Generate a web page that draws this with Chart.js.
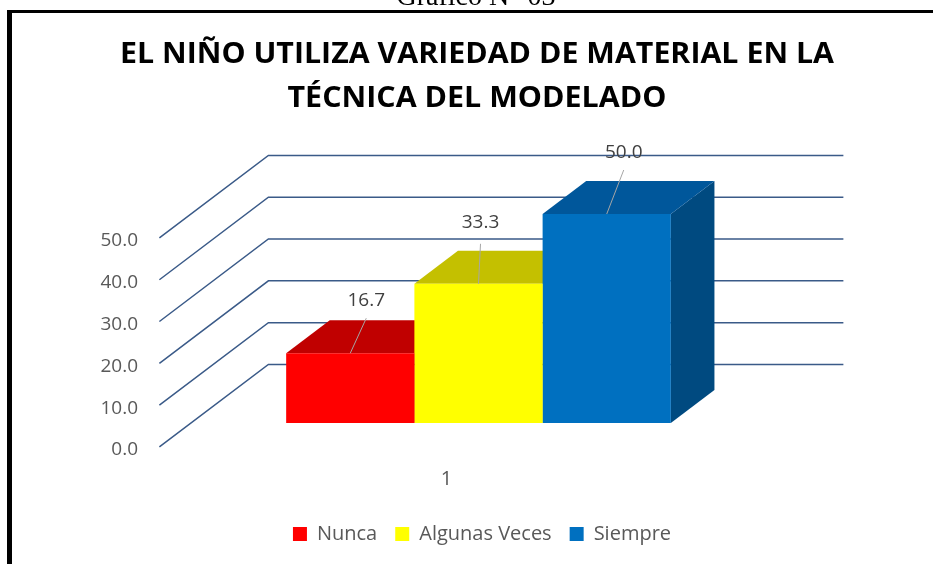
<!DOCTYPE html>
<html lang="es">
<head>
<meta charset="utf-8">
<title>Gráfico N° 03</title>
<script src="https://cdn.jsdelivr.net/npm/chart.js@4.4.1/dist/chart.umd.min.js"></script>
<style>
  html, body { margin: 0; padding: 0; background: #fff; }
  #caja { position: relative; width: 933px; height: 564px; }
</style>
</head>
<body>
<div id="caja"><canvas id="grafico"></canvas></div>
<script>
// datos del gráfico
const categorias = ['1'];
const series = ['Nunca', 'Algunas Veces', 'Siempre'];
const valores = [16.7, 33.3, 50.0];
const marcasY = [0, 10, 20, 30, 40, 50];
const titulo = ['EL NIÑO UTILIZA VARIEDAD DE MATERIAL EN LA', 'TÉCNICA DEL MODELADO'];
const rotulo = 'Gráfico N° 03';

// colores: frente / techo / lado de cada barra
const colorFrente = ['#FF0000', '#FFFF00', '#0070C0'];
const colorTecho = ['#C00000', '#C4C000', '#00579B'];
const colorLado = ['#A00000', '#A8A400', '#004A80'];

// perspectiva (vector de profundidad, fracciones del frente y fondo de las barras)
const PROF_X = 109, PROF_Y = -82.5;
const F_FRENTE = 0.29, F_FONDO = 0.69;

// desplazamiento de etiquetas: [dx, fin de guía dy, texto dy]
const guias = [[16, -35, -53], [2, -40, -61], [17, -44, -61]];

function poligono(ctx, color, pts) {
    ctx.fillStyle = color;
    ctx.beginPath();
    ctx.moveTo(pts[0][0], pts[0][1]);
    for (let k = 1; k < pts.length; k++) ctx.lineTo(pts[k][0], pts[k][1]);
    ctx.closePath();
    ctx.fill();
}

//S perspectiva: rejilla y caras de las barras
const perspectiva = {
    id: 'perspectiva',
    beforeDatasetsDraw(chart) {
        const ctx = chart.ctx, a = chart.chartArea, y = chart.scales.y;
        const muroX = PROF_X * (1 - F_FRENTE), muroY = PROF_Y * (1 - F_FRENTE);
        const fx = -PROF_X * F_FRENTE, fy = -PROF_Y * F_FRENTE;
        ctx.save();
        ctx.strokeStyle = '#3A5A88';
        ctx.lineWidth = 1.5;
        marcasY.forEach(v => {
            const py = y.getPixelForValue(v);
            ctx.beginPath();
            ctx.moveTo(a.left + fx, py + fy);
            ctx.lineTo(a.left + muroX, py + muroY);
            ctx.lineTo(a.right + muroX, py + muroY);
            ctx.stroke();
        });
        const dx = PROF_X * (F_FONDO - F_FRENTE), dy = PROF_Y * (F_FONDO - F_FRENTE);
        chart.data.datasets.forEach((ds, i) => {
            chart.getDatasetMeta(i).data.forEach(b => {
                const l = b.x - b.width / 2, r = b.x + b.width / 2;
                poligono(ctx, colorLado[i], [[r, b.y], [r + dx, b.y + dy], [r + dx, b.base + dy], [r, b.base]]);
                poligono(ctx, colorTecho[i], [[l, b.y], [r, b.y], [r + dx, b.y + dy], [l + dx, b.y + dy]]);
            });
        });
        ctx.restore();
    },
    afterDatasetsDraw(chart) {
        const ctx = chart.ctx;
        ctx.save();
        ctx.font = "19px 'Open Sans', sans-serif";
        ctx.textAlign = 'center';
        ctx.textBaseline = 'middle';
        chart.data.datasets.forEach((ds, i) => {
            chart.getDatasetMeta(i).data.forEach((b, j) => {
                const g = guias[i];
                ctx.strokeStyle = '#A6A6A6';
                ctx.lineWidth = 1;
                ctx.beginPath();
                ctx.moveTo(b.x, b.y);
                ctx.lineTo(b.x + g[0], b.y + g[1]);
                ctx.stroke();
                ctx.fillStyle = '#404040';
                ctx.fillText(ds.data[j].toFixed(1), b.x + g[0], b.y + g[2]);
            });
        });
        ctx.restore();
    }
};
//E perspectiva

//S título, rótulo y marco
const encabezado = {
    id: 'encabezado',
    afterDraw(chart) {
        const ctx = chart.ctx;
        ctx.save();
        // marco
        ctx.fillStyle = '#000';
        ctx.fillRect(7, 10, 933 - 7, 3);
        ctx.fillRect(7, 10, 5, 564 - 10);
        // rótulo cortado arriba
        ctx.font = "28px 'Liberation Serif', serif";
        ctx.textAlign = 'center';
        ctx.textBaseline = 'alphabetic';
        ctx.fillText(rotulo, 476, 5);
        // título
        ctx.font = "bold 28px 'Open Sans', sans-serif";
        const anchos = [714, 379];
        const bases = [63, 107];
        titulo.forEach((t, k) => {
            const w = ctx.measureText(t).width;
            const sx = anchos[k] / w;
            ctx.save();
            ctx.translate(477, bases[k]);
            ctx.scale(sx, 1);
            ctx.fillText(t, 0, 0);
            ctx.restore();
        });
        ctx.restore();
    }
};
//E título

Chart.defaults.font.family = "'Open Sans', sans-serif";
Chart.defaults.color = '#595959';

const ctx = document.getElementById('grafico').getContext('2d');
const grafico = new Chart(ctx, {
    type: 'bar',
    data: {
        labels: categorias,
        datasets: series.map((s, i) => ({
            label: s,
            data: [valores[i]],
            backgroundColor: colorFrente[i],
            borderWidth: 0,
            categoryPercentage: 0.669,
            barPercentage: 1.0
        }))
    },
    options: {
        responsive: true,
        maintainAspectRatio: false,
        animation: false,
        layout: {
            padding: { top: 214, left: 60, right: 29, bottom: 10 }
        },
        scales: {
            x: {
                offset: true,
                grid: { display: false, drawTicks: false },
                border: { display: false },
                ticks: { font: { size: 20 }, padding: 44, labelOffset: -32 },
                afterFit: s => { s.height = 83; }
            },
            y: {
                min: 0,
                max: 50,
                afterBuildTicks: s => { s.ticks = marcasY.map(v => ({ value: v })); },
                grid: { display: false, drawTicks: false },
                border: { display: false },
                ticks: {
                    font: { size: 19 },
                    padding: 53,
                    labelOffset: 27,
                    callback: v => Number(v).toFixed(1)
                },
                afterFit: s => { s.width = 131; }
            },
            relleno: {
                position: 'right',
                grid: { display: false, drawTicks: false },
                border: { display: false },
                ticks: { display: false },
                afterFit: s => { s.width = 138; }
            }
        },
        plugins: {
            legend: {
                display: true,
                position: 'bottom',
                labels: {
                    boxWidth: 14,
                    boxHeight: 14,
                    padding: 18,
                    color: '#595959',
                    font: { size: 20 }
                }
            },
            tooltip: { enabled: false }
        }
    },
    plugins: [perspectiva, encabezado]
});
</script>
</body>
</html>
